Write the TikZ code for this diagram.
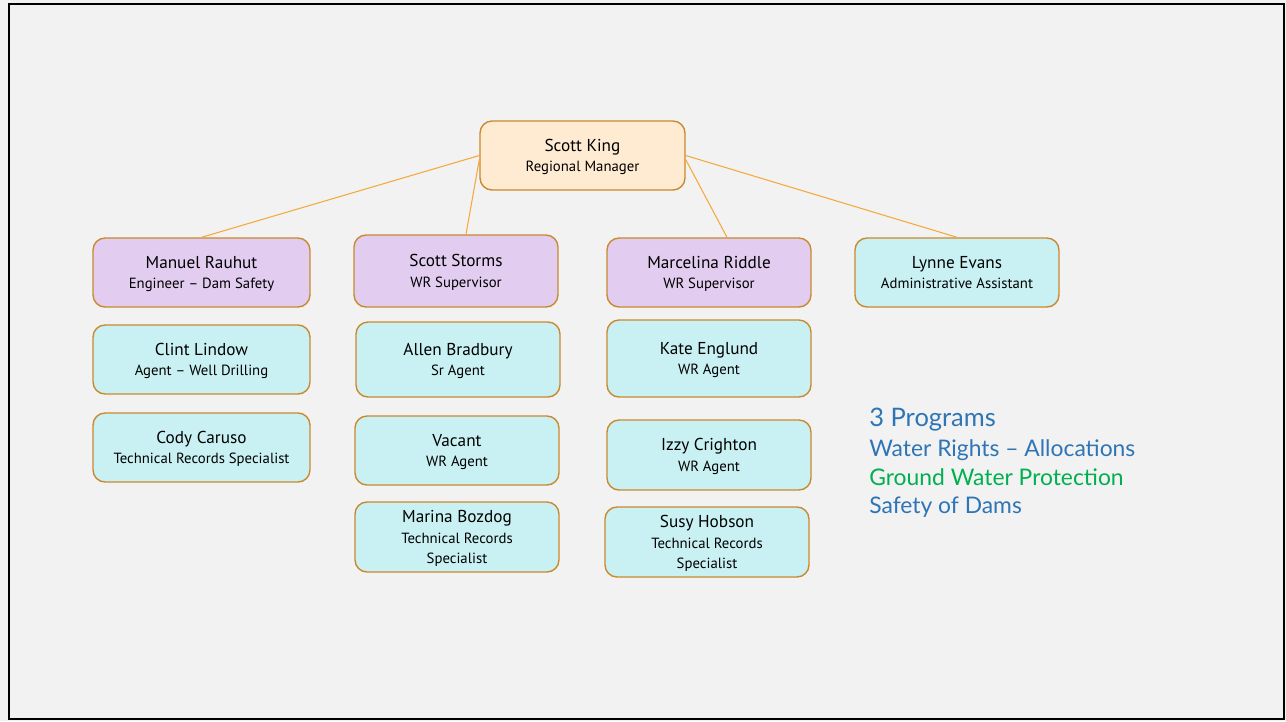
\documentclass[tikz,border=0pt]{standalone}
\usepackage{fontspec}
\setmainfont{PT Sans}
\newfontfamily\notefont{Lato}
\usetikzlibrary{positioning}

\definecolor{slidebg}{HTML}{F2F2F2}
\definecolor{boxline}{HTML}{C9892C}
\definecolor{linkline}{HTML}{F5A93B}
\definecolor{headfill}{HTML}{FEEBD2}
\definecolor{leadfill}{HTML}{E2CCF0}
\definecolor{stafffill}{HTML}{C9F1F3}
\definecolor{noteblue}{HTML}{2E75B6}
\definecolor{notegreen}{HTML}{00B050}

\newcommand\roletext{\fontsize{8.4}{11.6}\selectfont}

\begin{document}
\begin{tikzpicture}[x=0.02cm,y=-0.02cm]
\tikzset{
  orgbox/.style={rectangle,rounded corners=0.24cm,draw=boxline,line width=0.8pt,align=center,
    minimum width=4.08cm,minimum height=1.38cm,inner sep=1pt,text depth=-3.6pt,
    font=\fontsize{9.8}{11.6}\selectfont},
  headbox/.style={orgbox,fill=headfill,minimum width=4.1cm},
  leadbox/.style={orgbox,fill=leadfill},
  staffbox/.style={orgbox,fill=stafffill},
  orglink/.style={draw=linkline,line width=0.6pt},
  notetext/.style={anchor=base west,inner sep=0pt,font=\notefont\fontsize{13}{15}\selectfont}
}
% page
\fill[slidebg] (0,0) rectangle (1286,721);
\useasboundingbox (0,0) rectangle (1286,721);
\draw[black,line width=1.4pt] (9,4) rectangle (1284,719);

% manager
\node[headbox] (n_king) at (582.5,155.5) {Scott King\\{\roletext Regional Manager}};

% second row
\node[leadbox,minimum width=4.34cm] (n_rauhut) at (201.5,272.5) {Manuel Rauhut\\{\roletext Engineer – Dam Safety}};
\node[leadbox,minimum height=1.44cm] (n_storms) at (456,271) {Scott Storms\\{\roletext WR Supervisor}};
\node[leadbox] (n_riddle) at (709,272.5) {Marcelina Riddle\\{\roletext WR Supervisor}};
\node[staffbox] (n_evans) at (957,272.5) {Lynne Evans\\{\roletext Administrative Assistant}};

% staff under each lead
\node[staffbox,minimum width=4.34cm] (n_lindow) at (201.5,359.5) {Clint Lindow\\{\roletext Agent – Well Drilling}};
\node[staffbox,minimum width=4.34cm] (n_caruso) at (201.5,447.5) {Cody Caruso\\{\roletext Technical Records Specialist}};
\node[staffbox,minimum height=1.5cm] (n_bradbury) at (458,359.5) {Allen Bradbury\\{\roletext Sr Agent}};
\node[staffbox] (n_vacant) at (457,450.5) {Vacant\\{\roletext WR Agent}};
\node[staffbox,minimum height=1.4cm] (n_bozdog) at (457,537) {Marina Bozdog\\{\roletext Technical Records}\\{\roletext Specialist}};
\node[staffbox,minimum height=1.54cm] (n_englund) at (709,358.5) {Kate Englund\\{\roletext WR Agent}};
\node[staffbox,minimum height=1.4cm] (n_crighton) at (709,455) {Izzy Crighton\\{\roletext WR Agent}};
\node[staffbox,minimum height=1.4cm] (n_hobson) at (707,542) {Susy Hobson\\{\roletext Technical Records}\\{\roletext Specialist}};

% links from the manager
\draw[orglink] (n_king.west) -- (n_rauhut.north);
\draw[orglink] ([yshift=-0.08cm]n_king.west) -- ([xshift=0.2cm]n_storms.north);
\draw[orglink] ([yshift=-0.08cm]n_king.east) -- ([xshift=0.36cm]n_riddle.north);
\draw[orglink] (n_king.east) -- (n_evans.north);

% programs note
\node[notetext,font=\notefont\fontsize{14.5}{17}\selectfont,text=noteblue] (n_programs) at (869,426) {3 Programs};
\node[notetext,text=noteblue] (n_rights) at (869,456) {Water Rights – Allocations};
\node[notetext,text=notegreen] (n_ground) at (869,485) {Ground Water Protection};
\node[notetext,text=noteblue] (n_dams) at (869,513) {Safety of Dams};
\end{tikzpicture}
\end{document}
